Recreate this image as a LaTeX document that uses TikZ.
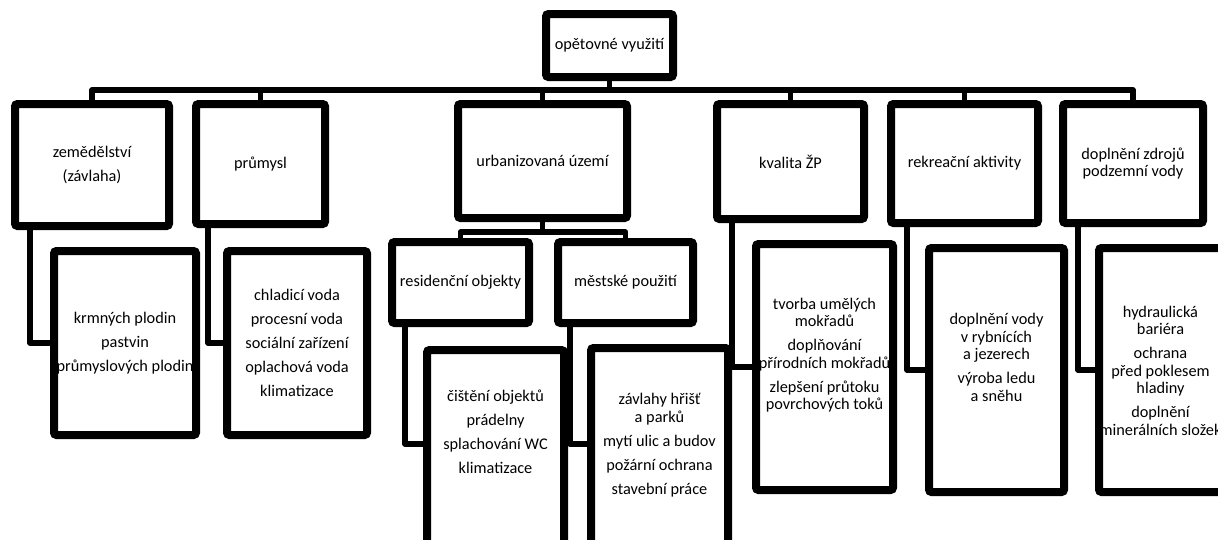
\documentclass[tikz,border=0pt]{standalone}
\usepackage{fontspec}
\setmainfont{Carlito}
\newcommand{\boxfont}{\fontsize{16.3}{17.5}\selectfont}

\begin{document}
\begin{tikzpicture}[x=1pt, y=-1pt,
  ubox/.style={draw=black, line width=8pt, rounded corners=2.5pt, fill=white,
               inner sep=0pt, font=\boxfont, align=center},
  utext/.style={font=\boxfont, align=center, inner sep=0pt},
  wire/.style={draw=black, line width=5.5pt, line join=round},
]
\useasboundingbox (0,0) rectangle (1218,539);
\clip (0,0) rectangle (1218,539);

% =============================================
% Root and first level
% =============================================
\node[ubox, minimum width=127pt, minimum height=63pt] (root) at (609.5,45.5) {opětovné využití};

\node[ubox, minimum width=154pt, minimum height=122pt] (zem) at (92,165) {zemědělství\\[6pt](závlaha)};
\node[ubox, minimum width=129pt, minimum height=120pt] (prum) at (260.5,164) {průmysl};
\node[ubox, minimum width=169pt, minimum height=114pt] (urb) at (542.5,161) {urbanizovaná území};
\node[ubox, minimum width=147pt, minimum height=115pt] (kval) at (790.5,161.5) {kvalita ŽP};
\node[ubox, minimum width=147pt, minimum height=119pt] (rekr) at (964.5,163.5) {rekreační aktivity};
\node[ubox, minimum width=140pt, minimum height=119pt] (dopl) at (1133,163.5) {doplnění zdrojů\\podzemní vody};

% Bus under the root
\coordinate (bus) at (0,90);
\draw[wire] (root.south) -- (root.south |- bus);
\draw[wire] (zem.north) -- (zem.north |- bus) -- (dopl.north |- bus) -- (dopl.north);
\foreach \n in {prum, urb, kval, rekr} {
  \draw[wire] (\n.north) -- (\n.north |- bus);
}

% =============================================
% Urban areas: second level
% =============================================
\node[ubox, minimum width=137pt, minimum height=81pt] (res) at (460.5,282.5) {residenční objekty};
\node[ubox, minimum width=135pt, minimum height=81pt] (mest) at (625.5,282.5) {městské použití};

\coordinate (ubus) at (0,232);
\draw[wire] (urb.south) -- (urb.south |- ubus);
\draw[wire] (res.north) -- (res.north |- ubus) -- (mest.north |- ubus) -- (mest.north);

% =============================================
% Leaf boxes
% =============================================
\node[ubox, minimum width=142pt, minimum height=184pt] (krm) at (125,343) {};
\node[ubox, minimum width=140pt, minimum height=184pt] (chl) at (297,343) {};
\node[ubox, minimum width=137pt, minimum height=206pt] (cis) at (495.5,453) {};
\node[ubox, minimum width=137pt, minimum height=208pt] (zav) at (659.5,452) {};
\node[ubox, minimum width=137pt, minimum height=246pt] (tvo) at (824.5,367) {};
\node[ubox, minimum width=135pt, minimum height=244pt] (dvo) at (996.5,370) {};
\node[ubox, minimum width=123pt, minimum height=244pt] (hyd) at (1160.5,370) {};

\node[utext] (krmT) at (125,343) {krmných plodin\\[6.5pt]pastvin\\[6.5pt]průmyslových plodin};
\node[utext] (chlT) at (297,343) {chladicí voda\\[6.5pt]procesní voda\\[6.5pt]sociální zařízení\\[6.5pt]oplachová voda\\[6.5pt]klimatizace};
\node[utext] (cisT) at (495.5,432) {čištění objektů\\[6.5pt]prádelny\\[6.5pt]splachování WC\\[6.5pt]klimatizace};
\node[utext] (zavT) at (659.5,445) {závlahy hřišť\\a parků\\[6.5pt]mytí ulic a budov\\[6.5pt]požární ochrana\\[6.5pt]stavební práce};
\node[utext] (tvoT) at (824.5,355) {tvorba umělých\\mokřadů\\[6.5pt]doplňování\\přírodních mokřadů\\[6.5pt]zlepšení průtoku\\povrchových toků};
\node[utext] (dvoT) at (996.5,357.5) {doplnění vody\\v rybnících\\a jezerech\\[6.5pt]výroba ledu\\a sněhu};
\node[utext] (hydT) at (1160.5,370.5) {hydraulická\\bariéra\\[6.5pt]ochrana\\před poklesem\\hladiny\\[6.5pt]doplnění\\minerálních složek};

% Elbow links to the leaves
\draw[wire] ([xshift=19pt]zem.south west) |- (krm.west);
\draw[wire] ([xshift=16pt]prum.south west) |- (chl.west);
\draw[wire] ([xshift=17pt]res.south west) |- ([yshift=-98pt]cis.north west);
\draw[wire] ([xshift=16pt]mest.south west) |- ([yshift=-100pt]zav.north west);
\draw[wire] ([xshift=19pt]kval.south west) |- (tvo.west);
\draw[wire] ([xshift=20pt]rekr.south west) |- (dvo.west);
\draw[wire] ([xshift=19pt]dopl.south west) |- (hyd.west);

\end{tikzpicture}
\end{document}
